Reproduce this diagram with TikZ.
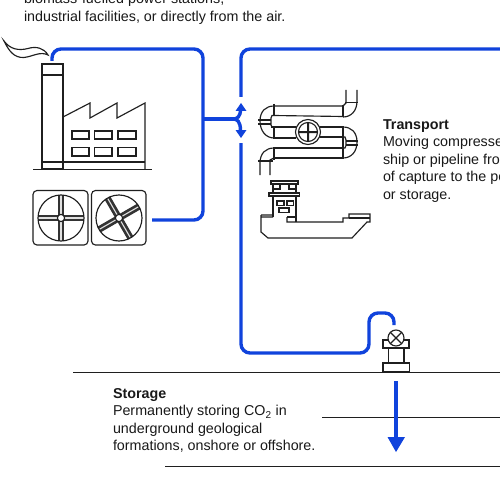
\documentclass[tikz,border=0pt]{standalone}
\usepackage{fontspec}
\setmainfont{Liberation Sans}
\tikzset{
  ink/.style={draw=black!88,line width=1.15pt,line join=miter},
  inkfill/.style={ink,fill=white},
  flow/.style={draw=flowblue,line width=3.4pt,rounded corners=9pt},
  rule/.style={draw=black!88,line width=1.1pt},
  label/.style={inner sep=0pt,outer sep=0pt,anchor=north west,align=left,font=\fontsize{14.3pt}{17.45pt}\selectfont,text=black!90},
  blade/.style={draw=black!80,line width=2.7pt,double=black!12,double distance=1.1pt},
}
\definecolor{flowblue}{HTML}{1043DC}
\begin{document}
\begin{tikzpicture}[x=1pt,y=-1pt]
\useasboundingbox (0,0) rectangle (500,500);
\clip (0,0) rectangle (500,500);
\fill[white] (0,0) rectangle (500,500);

% top text
\node[label] (captureText) at (24,-6.5) {biomass-fuelled power stations,\\industrial facilities, or directly from the air.};

% smoke
\draw[ink] (4,41) .. controls (9,51) and (14,58) .. (24,57.5) .. controls (33,56.5) and (40,51) .. (48,55)
  .. controls (44,48) and (36,46) .. (28,48.5) .. controls (18,51) and (10,49) .. (4,41) -- cycle;

% factory
\draw[ink] (42,64) rectangle (63,169);
\draw[ink] (42,75) -- (63,75);
\draw[ink] (63,117) -- (90,103) -- (90,118) -- (117,103) -- (117,118) -- (145,103) -- (145,169);
\draw[ink] (42,162) -- (145,162);
\draw[rule] (33,169.5) -- (152,169.5);
\foreach \wx/\ww in {72/17,94.5/17.5,118/18}{
  \draw[ink] (\wx,131) rectangle ++(\ww,8);
  \draw[ink] (\wx,147.5) rectangle ++(\ww,8.5);
}

% fans
\draw[ink,rounded corners=4pt] (33,190.5) rectangle (88,245);
\draw[ink,rounded corners=4pt] (91.5,190.5) rectangle (146,245);
\foreach \a in {0,90,180,270}{
  \draw[blade] (61,218) -- ++(\a:23);
  \draw[blade] (119,218) -- ++(\a+60:23);
}
\draw[ink] (61,218) circle (23);
\draw[ink] (119,218) circle (23);
\draw[inkfill] (61,218) circle (3.6);
\draw[inkfill] (119,218) circle (3.6);

% pipes
\draw[ink] (274,106) -- (343,106) (274,115.5) -- (343,116.5);
\draw[ink] (271,127) -- (296,127) (320,127) -- (343,127);
\draw[ink] (274,138) -- (296,138) (320,137) -- (343,137);
\draw[ink] (274,148) -- (343,148) (274,158) -- (343,158);
\draw[ink] (274,104) -- (274,116) (274,126) -- (274,139) (274,147) -- (274,160);
\draw[ink] (343,105) -- (343,117) (343,126) -- (343,159);
% left bend
\draw[ink] (274,106) .. controls (266,106) and (260,111) .. (260,121) .. controls (260,131) and (266,138) .. (274,138);
\draw[ink] (274,115.5) -- (272,115.5) -- (271,118) -- (271,125) -- (272,127);
\draw[ink] (258,120) -- (271,120) (258,124) -- (271,124);
% right bend
\draw[ink] (343,127) .. controls (351,127) and (357,132) .. (357,142) .. controls (357,152) and (351,158) .. (343,158);
\draw[ink] (343,137) -- (345,137) -- (346,140) -- (346,145.5) -- (345,148) -- (343,148);
\draw[ink] (346,141) -- (358,141) (346,145) -- (358,145);
% top right elbow
\draw[ink] (343,117) .. controls (351,117) and (357,111) .. (357,101) -- (357,90);
\draw[ink] (343,106) -- (346,103) -- (346,90);
\draw[ink] (345,102.5) -- (358,102.5);
% bottom left elbow
\draw[ink] (274,148) .. controls (266,148) and (260,153) .. (260,163) -- (260,175);
\draw[ink] (274,158) -- (270,160) -- (270,175);
\draw[ink] (258,161) -- (273,161);
% valve
\draw[inkfill] (308,132) circle (12.5);
\draw[ink] (308,132) circle (9.5);
\fill[black!88] (299,131) rectangle (317,133) (307,123) rectangle (309,141);

% ship
\draw[ink] (261,215) -- (273,215) (261,217) -- (273,217) (287,217) -- (287,222) -- (343,222) -- (343,218) -- (349,218) -- (349,214) -- (370,214) -- (370,222) -- (367,222) -- (352,238) -- (268,238) -- (261,232) -- (261,215);
\draw[ink] (349,218) -- (370,218);
\draw[ink] (273,195) -- (273,217) (296,195) -- (296,222);
\draw[ink] (287,217) -- (296,217);
\draw[inkfill] (269,193) rectangle (299.5,196);
\draw[inkfill] (271,181) rectangle (298,184);
\draw[ink] (273,184) -- (273,193) (296,184) -- (296,193);
\draw[ink] (273,189) -- (280,189) -- (280,184) (296,189) -- (289,189) -- (289,184);
\draw[ink] (277,201) rectangle (284,205.5) (287,201) rectangle (293.5,205.5);
\draw[ink] (279,208) rectangle (289,212.5);

% wellhead
\draw[ink] (388.5,348) rectangle (404,363);
\draw[inkfill] (383,340) rectangle (409,348);
\draw[inkfill] (383,363) rectangle (409.5,372);
\draw[inkfill] (396,338) circle (8);
\draw[ink] (390.3,332.3) -- (401.7,343.7) (390.3,343.7) -- (401.7,332.3);

% ground
\draw[rule] (73,372.5) -- (500,372.5);
\draw[rule] (322,417.5) -- (500,417.5);
\draw[rule,line width=1.4pt] (165,466.5) -- (500,466.5);

% connectors
\coordinate (stack) at (52,61);
\coordinate (fanOut) at (152,220);
\coordinate (junction) at (203,119);
\coordinate (split) at (233,119);
\coordinate (upEnd) at (241,97);
\coordinate (offRight) at (502,49);
\coordinate (downStart) at (241,143);
\coordinate (wellIn) at (394,325);
\coordinate (injectTop) at (396,381);
\coordinate (injectTip) at (396,452);
\draw[flow] (stack) -- (52,49) -- (203,49) -- (203,220) -- (fanOut);
\draw[flow] (junction) -- (split);
\draw[flow,rounded corners=0pt] (split) .. controls (237,119) and (240.5,117) .. (240.5,109);
\draw[flow,rounded corners=0pt] (split) .. controls (237,119) and (240.5,121) .. (240.5,131);
\fill[flowblue] (241,103) -- (246.5,111) -- (235.5,111) -- cycle;
\fill[flowblue] (241,138) -- (246.5,130) -- (235.5,130) -- cycle;
\draw[flow] (upEnd) -- (241,49) -- (offRight);
\draw[flow] (downStart) -- (241,353) -- (369,353) -- (369,313) -- (394,313) -- (wellIn);
\draw[draw=flowblue,line width=3.4pt] (injectTop) -- (396,440);
\fill[flowblue] (injectTip) -- (405,437) -- (387.5,437) -- cycle;

% labels
\node[label] (transportText) at (383,119.5) {\textbf{Transport}\\Moving compressed\\ship or pipeline from\\of capture to the point\\or storage.};
\node[label] (storageText) at (113,388.5) {\textbf{Storage}\\Permanently storing CO\textsubscript{2} in\\underground geological\\formations, onshore or offshore.};
\end{tikzpicture}
\end{document}
